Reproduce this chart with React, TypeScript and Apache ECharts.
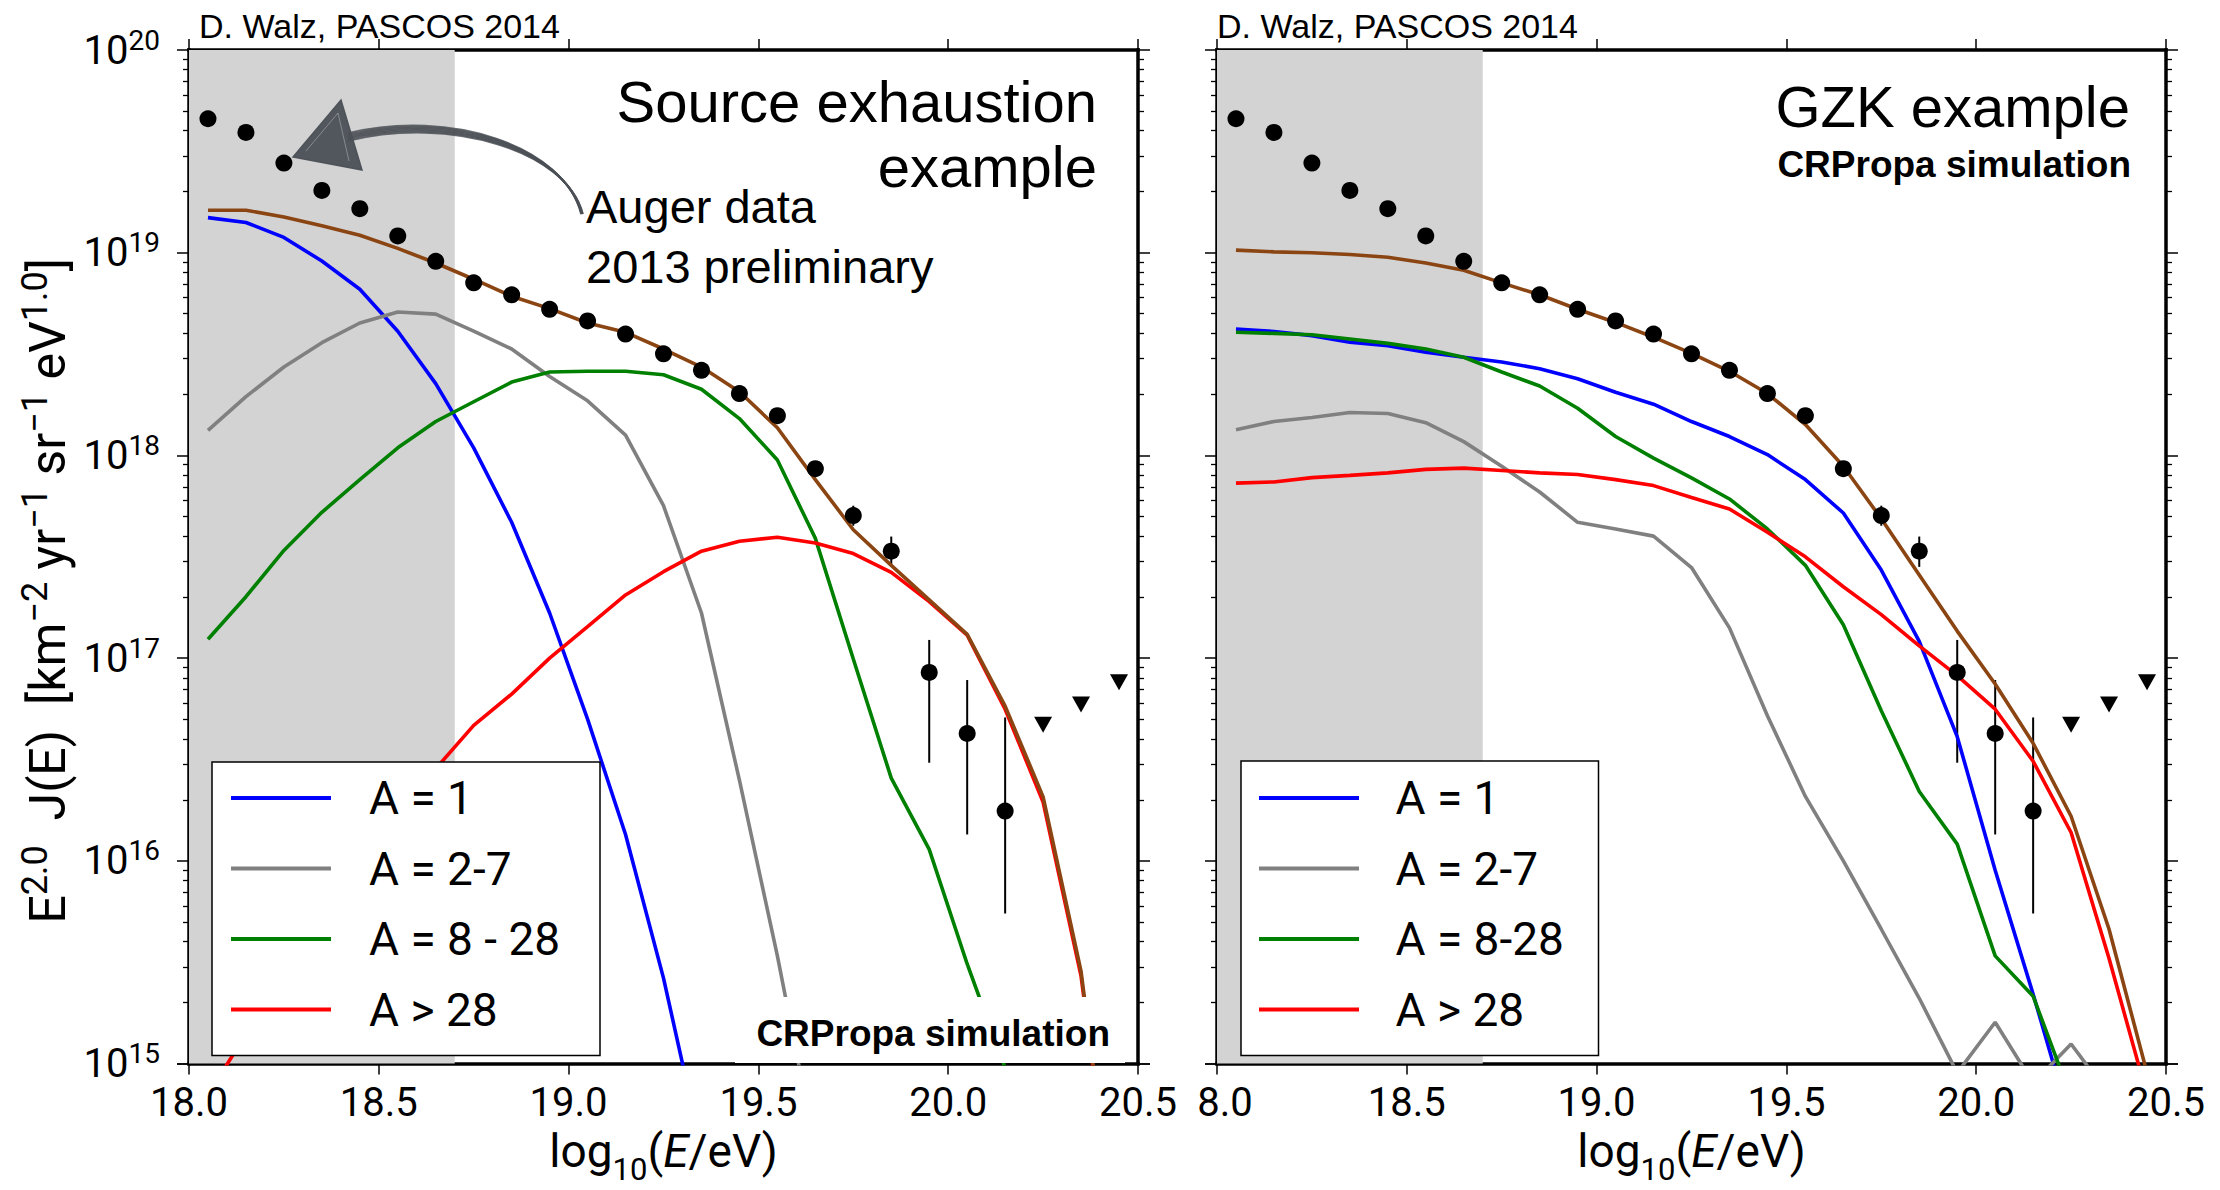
import React, { useEffect, useRef } from "react";
import * as echarts from "echarts";

// log10(E/eV) bin centres of the simulated spectra
const ENERGY_BINS = [
  18.05, 18.15, 18.25, 18.35, 18.45, 18.55, 18.65, 18.75, 18.85, 18.95, 19.05, 19.15, 19.25,
  19.35, 19.45, 19.55, 19.65, 19.75, 19.85, 19.95, 20.05, 20.15, 20.25, 20.35, 20.45,
];

// Auger 2013 preliminary spectrum, E^2 J(E)
const AUGER_ENERGY = [
  18.05, 18.15, 18.25, 18.35, 18.45, 18.55, 18.65, 18.75, 18.85, 18.95, 19.05, 19.15, 19.25,
  19.35, 19.45, 19.55, 19.65, 19.75, 19.85, 19.95, 20.05, 20.15,
];
const AUGER_FLUX = [
  4.58e19, 3.92e19, 2.77e19, 2.03e19, 1.65e19, 1.21e19, 9.07e18, 7.1e18, 6.2e18, 5.26e18, 4.61e18,
  3.97e18, 3.17e18, 2.63e18, 2.02e18, 1.57e18, 8.6e17, 5.05e17, 3.37e17, 8.5e16, 4.25e16, 1.76e16,
];
const AUGER_ERR_ENERGY = [19.75, 19.85, 19.95, 20.05, 20.15];
const AUGER_ERR_LOW = [4.5e17, 2.82e17, 3.05e16, 1.35e16, 5.5e15];
const AUGER_ERR_HIGH = [5.65e17, 3.98e17, 1.23e17, 7.8e16, 5.1e16];
const AUGER_LIMIT_ENERGY = [20.25, 20.35, 20.45];
const AUGER_LIMIT_FLUX = [4.7e16, 5.9e16, 7.6e16];

// Source exhaustion scenario
const EXH_A1 = [
  1.49e19, 1.41e19, 1.19e19, 9.1e18, 6.6e18, 4.1e18, 2.26e18, 1.09e18, 4.68e17, 1.67e17, 5.0e16,
  1.35e16, 2.64e15, 3.8e14, null, null, null, null, null, null, null, null, null, null, null,
];
const EXH_A2_7 = [
  1.33e18, 1.95e18, 2.73e18, 3.6e18, 4.5e18, 5.1e18, 4.98e18, 4.1e18, 3.35e18, 2.45e18, 1.86e18,
  1.26e18, 5.65e17, 1.67e17, 2.5e16, 3.4e15, 3.8e14, null, null, null, null, null, null, null, null,
];
const EXH_A8_28 = [
  1.24e17, 2.01e17, 3.4e17, 5.24e17, 7.6e17, 1.09e18, 1.47e18, 1.84e18, 2.3e18, 2.58e18, 2.6e18,
  2.6e18, 2.5e18, 2.12e18, 1.52e18, 9.5e17, 3.9e17, 9.9e16, 2.56e16, 1.14e16, 3.1e15, 9.5e14, 1e14,
  null, null,
];
const EXH_A28 = [
  7e14, 1.4e15, 2.8e15, 5.5e15, 1.02e16, 1.75e16, 2.85e16, 4.66e16, 6.65e16, 1.0e17, 1.43e17,
  2.05e17, 2.67e17, 3.37e17, 3.77e17, 3.95e17, 3.7e17, 3.28e17, 2.65e17, 1.9e17, 1.3e17, 5.6e16,
  1.95e16, 2.7e15, 1e14,
];
const EXH_TOTAL = [
  1.62e19, 1.62e19, 1.5e19, 1.36e19, 1.22e19, 1.05e19, 8.9e18, 7.4e18, 6.1e18, 5.3e18, 4.5e18,
  4.05e18, 3.35e18, 2.73e18, 2.06e18, 1.37e18, 7.6e17, 4.3e17, 2.87e17, 1.94e17, 1.31e17, 5.8e16,
  2.07e16, 2.85e15, 1e14,
];

// GZK scenario
const GZK_A1 = [
  4.2e18, 4.09e18, 3.9e18, 3.62e18, 3.48e18, 3.23e18, 3.05e18, 2.89e18, 2.68e18, 2.39e18, 2.05e18,
  1.79e18, 1.47e18, 1.24e18, 1.01e18, 7.6e17, 5.2e17, 2.72e17, 1.21e17, 4.1e16, 9e15, 2.2e15, 5e14,
  null, null,
];
const GZK_A2_7 = [
  1.34e18, 1.47e18, 1.54e18, 1.63e18, 1.61e18, 1.45e18, 1.17e18, 8.85e17, 6.6e17, 4.68e17, 4.34e17,
  4.0e17, 2.8e17, 1.41e17, 5.2e16, 2.08e16, 1.0e16, 4.6e15, 2.1e15, 9e14, 1.6e15, 8e14, 1.25e15,
  7e14, 3e14,
];
const GZK_A8_28 = [
  4.05e18, 4.0e18, 3.94e18, 3.75e18, 3.57e18, 3.35e18, 3.05e18, 2.58e18, 2.2e18, 1.71e18, 1.24e18,
  9.7e17, 7.75e17, 6.1e17, 4.34e17, 2.87e17, 1.46e17, 5.5e16, 2.2e16, 1.21e16, 3.4e15, 2.15e15,
  6.8e14, null, null,
];
const GZK_A28 = [
  7.3e17, 7.4e17, 7.77e17, 7.97e17, 8.2e17, 8.54e17, 8.66e17, 8.43e17, 8.2e17, 8.05e17, 7.6e17,
  7.1e17, 6.2e17, 5.44e17, 4.18e17, 3.16e17, 2.25e17, 1.64e17, 1.15e17, 8.2e16, 5.6e16, 3.1e16,
  1.38e16, 3.3e15, 7e14,
];
const GZK_TOTAL = [
  1.03e19, 1.01e19, 1.0e19, 9.8e18, 9.5e18, 8.9e18, 8.2e18, 7.1e18, 6.2e18, 5.26e18, 4.53e18,
  3.83e18, 3.19e18, 2.6e18, 2.02e18, 1.42e18, 8.85e17, 4.87e17, 2.57e17, 1.36e17, 7.45e16, 3.8e16,
  1.66e16, 4.6e15, 9e14,
];

const LEGEND_EXH = ["A = 1", "A = 2-7", "A = 8 - 28", "A > 28"];
const LEGEND_GZK = ["A = 1", "A = 2-7", "A = 8-28", "A > 28"];

// axis ranges
const X_MIN = 18.0;
const X_MAX = 20.5;
const X_STEP = 0.5;
const Y_MIN = 1e15;
const Y_MAX = 1e20;
// energy range shaded in grey
const SHADE = [18.0, 18.7];

const LINE_COLORS = ["#0000ff", "#808080", "#008000", "#ff0000", "#8b4513"];
const FONT_TEX = "Roboto, 'DejaVu Sans', sans-serif";
const FONT_HELV = "'Liberation Sans', Arial, Helvetica, sans-serif";

const toPairs = (xs: number[], ys: (number | null)[]) =>
  xs.map((x, i) => [x, ys[i]]).filter((d) => d[1] != null);

function panelSeries(p: number, curves: (number | null)[][], names: string[]) {
  const axes = { xAxisIndex: 2 * p, yAxisIndex: 2 * p };
  const list: any[] = [];
  list.push({
    type: "custom",
    ...axes,
    z: 1,
    silent: true,
    data: [SHADE],
    encode: { x: [0, 1] },
    renderItem: (_: any, api: any) => {
      const a = api.coord([api.value(0), Y_MAX]);
      const b = api.coord([api.value(1), Y_MIN]);
      return {
        type: "rect",
        shape: { x: a[0], y: a[1], width: b[0] - a[0], height: b[1] - a[1] },
        style: { fill: "#d3d3d3" },
      };
    },
  });
  list.push({
    type: "custom",
    ...axes,
    z: 2,
    silent: true,
    data: AUGER_ERR_ENERGY.map((e, i) => [e, AUGER_ERR_LOW[i], AUGER_ERR_HIGH[i]]),
    encode: { x: 0, y: [1, 2] },
    renderItem: (_: any, api: any) => {
      const lo = api.coord([api.value(0), api.value(1)]);
      const hi = api.coord([api.value(0), api.value(2)]);
      return {
        type: "line",
        shape: { x1: lo[0], y1: lo[1], x2: hi[0], y2: hi[1] },
        style: { stroke: "#000", lineWidth: 2 },
      };
    },
  });
  list.push({
    type: "scatter",
    name: "Auger",
    ...axes,
    z: 2,
    silent: true,
    symbol: "circle",
    symbolSize: 17,
    itemStyle: { color: "#000", opacity: 1 },
    data: toPairs(AUGER_ENERGY, AUGER_FLUX),
  });
  list.push({
    type: "scatter",
    name: "Auger limits",
    ...axes,
    z: 2,
    silent: true,
    symbol: "triangle",
    symbolRotate: 180,
    symbolSize: [18, 16],
    itemStyle: { color: "#000", opacity: 1 },
    data: toPairs(AUGER_LIMIT_ENERGY, AUGER_LIMIT_FLUX),
  });
  curves.forEach((vals, k) => {
    list.push({
      type: "line",
      name: k < names.length ? names[k] : "total",
      ...axes,
      z: 2,
      silent: true,
      showSymbol: false,
      symbol: "none",
      clip: true,
      lineStyle: { color: LINE_COLORS[k], width: 3.6 },
      itemStyle: { color: LINE_COLORS[k] },
      data: toPairs(ENERGY_BINS, vals),
    });
  });
  return list;
}

const frameLine = {
  show: true,
  onZero: false,
  lineStyle: { color: "#000", width: 3.5, cap: "square" },
};
const majorTick = (len: number) => ({
  show: true,
  inside: false,
  length: len,
  lineStyle: { color: "#000", width: 1.5 },
});
const minorTick = { show: true, splitNumber: 9, length: 6, lineStyle: { color: "#000", width: 1.3 } };

const X_NAME = "{n|log}{sub|10}{n|(}{it|E}{n|/eV)}";
const X_NAME_RICH = {
  n: { fontSize: 46, fontFamily: FONT_TEX, color: "#000", verticalAlign: "middle" },
  it: { fontSize: 46, fontFamily: FONT_TEX, fontStyle: "italic", color: "#000", verticalAlign: "middle" },
  sub: { fontSize: 31, fontFamily: FONT_TEX, color: "#000", verticalAlign: "middle", padding: [38, 0, 0, 0] },
};

const Y_NAME =
  "{n|E}{sup|2.0}{n|  J(E)  [km}{sup|\u22122}{n| yr}{sup|\u22121}{n| sr}{sup|\u22121}{n| eV}{sup|1.0}{n|]}";
const Y_NAME_RICH = {
  n: { fontSize: 50, fontFamily: FONT_TEX, color: "#000", verticalAlign: "middle" },
  sup: { fontSize: 36, fontFamily: FONT_TEX, color: "#000", verticalAlign: "middle", padding: [0, 0, 26, 0] },
};

function xBottom(grid: number, right: boolean) {
  return {
    type: "value",
    gridIndex: grid,
    position: "bottom",
    min: X_MIN,
    max: X_MAX,
    interval: X_STEP,
    axisLine: frameLine,
    axisTick: majorTick(11),
    splitLine: { show: false },
    axisLabel: {
      margin: 19,
      fontSize: 40,
      fontFamily: FONT_TEX,
      color: "#000",
      formatter: (v: number) => (right && v === X_MIN ? "{cut|8.0}" : v.toFixed(1)),
      rich: { cut: { fontSize: 40, fontFamily: FONT_TEX, color: "#000", padding: [0, 0, 0, 16] } },
    },
    name: X_NAME,
    nameLocation: "middle",
    nameGap: 49,
    nameTextStyle: { rich: X_NAME_RICH },
  };
}

function xTop(grid: number) {
  return {
    type: "value",
    gridIndex: grid,
    position: "top",
    min: X_MIN,
    max: X_MAX,
    interval: X_STEP,
    axisLine: frameLine,
    axisTick: majorTick(11),
    splitLine: { show: false },
    axisLabel: { show: false },
  };
}

function yAxisLog(grid: number, position: string, labelled: boolean) {
  const axis: any = {
    type: "log",
    logBase: 10,
    gridIndex: grid,
    position,
    min: Y_MIN,
    max: Y_MAX,
    axisLine: frameLine,
    axisTick: majorTick(12),
    minorTick,
    splitLine: { show: false },
    minorSplitLine: { show: false },
    axisLabel: labelled
      ? {
          margin: 29,
          formatter: (v: number) => `{b|10}{s|${Math.round(Math.log10(v))}}`,
          rich: {
            b: { fontSize: 40, fontFamily: FONT_TEX, color: "#000", verticalAlign: "middle" },
            s: { fontSize: 28, fontFamily: FONT_TEX, color: "#000", verticalAlign: "middle", padding: [0, 0, 20, 0] },
          },
        }
      : { show: false },
  };
  if (labelled) {
    axis.name = Y_NAME;
    axis.nameLocation = "middle";
    axis.nameRotate = 90;
    axis.nameGap = 110;
    axis.nameTextStyle = { rich: Y_NAME_RICH, padding: [0, 68, 0, 0] };
  }
  return axis;
}

function legendBox(left: number, top: number, names: string[], padding: number[], spacer: number, textWidth: number) {
  return {
    left,
    top,
    orient: "vertical",
    data: names,
    icon: "rect",
    itemWidth: 100,
    itemHeight: 4,
    itemGap: 24.5,
    padding,
    backgroundColor: "#fff",
    borderColor: "#000",
    borderWidth: 1.5,
    borderRadius: 0,
    selectedMode: false,
    itemStyle: { borderWidth: 0 },
    formatter: (name: string) => `{sp| }{t|${name}}`,
    textStyle: {
      rich: {
        sp: { width: spacer, lineHeight: 44, fontSize: 46 },
        t: { width: textWidth, lineHeight: 44, fontSize: 46, fontFamily: FONT_TEX, color: "#000" },
      },
    },
  };
}

function text(
  str: string,
  x: number,
  y: number,
  size: number,
  align: string,
  weight = "normal"
) {
  return {
    type: "text",
    x,
    y,
    z: 20,
    silent: true,
    style: {
      text: str,
      fill: "#000",
      fontSize: size,
      fontFamily: FONT_HELV,
      fontWeight: weight,
      align,
      textAlign: align,
      verticalAlign: "middle",
      textVerticalAlign: "middle",
    },
  };
}

// hand-drawn arrow pointing from the data caption to the data points
const ARROW_STROKES = [-3, -2, -1, 0, 1, 2, 3];
function arrowElements() {
  const els: any[] = ARROW_STROKES.map((i) => ({
    type: "bezierCurve",
    z: 20,
    silent: true,
    shape: {
      x1: 582 + i * 0.3,
      y1: 214,
      cpx1: 565 + i * 0.5,
      cpy1: 148 + i * 0.9,
      cpx2: 450,
      cpy2: 112 + i * 1.2,
      x2: 348,
      y2: 137 + i * 1.3,
    },
    style: { stroke: "#4b5056", lineWidth: 1.9, fill: "none", opacity: 0.85 },
  }));
  els.push({
    type: "polygon",
    z: 20,
    silent: true,
    shape: { points: [[293, 157], [341, 100], [362, 170]] },
    style: { fill: "#4b5056", stroke: "#4b5056", lineWidth: 1.5, opacity: 0.95 },
  });
  els.push({
    type: "polyline",
    z: 21,
    silent: true,
    shape: { points: [[306, 151], [338, 113], [349, 161]] },
    style: { stroke: "rgba(255,255,255,0.3)", lineWidth: 1, fill: "none" },
  });
  return els;
}

function buildOption() {
  return {
    animation: false,
    backgroundColor: "#fff",
    grid: [
      { left: 189, top: 50, width: 949, height: 1023 },
      { left: 1217, top: 50, width: 949, height: 1023 },
    ],
    xAxis: [xBottom(0, false), xTop(0), xBottom(1, true), xTop(1)],
    yAxis: [
      yAxisLog(0, "left", true),
      yAxisLog(0, "right", false),
      yAxisLog(1, "left", false),
      yAxisLog(1, "right", false),
    ],
    legend: [
      legendBox(212, 762, LEGEND_EXH, [13, 5, 23, 19], 33, 226),
      legendBox(1241, 761, LEGEND_GZK, [14, 5, 23, 18], 31.5, 198),
    ],
    graphic: {
      elements: [
        text("D. Walz, PASCOS 2014", 199, 26, 34, "left"),
        text("D. Walz, PASCOS 2014", 1217, 26, 34, "left"),
        text("Source exhaustion", 1097, 101, 58, "right"),
        text("example", 1097, 166, 58, "right"),
        text("Auger data", 586, 206.5, 47, "left"),
        text("2013 preliminary", 586, 266.5, 47, "left"),
        text("GZK example", 2130, 106, 58, "right"),
        text("CRPropa simulation", 2131, 164.5, 37, "right", "bold"),
        {
          type: "rect",
          z: 19,
          silent: true,
          shape: { x: 735, y: 997, width: 390, height: 66 },
          style: { fill: "#fff" },
        },
        text("CRPropa simulation", 1110, 1033, 37, "right", "bold"),
        ...arrowElements(),
      ],
    },
    series: [
      ...panelSeries(0, [EXH_A1, EXH_A2_7, EXH_A8_28, EXH_A28, EXH_TOTAL], LEGEND_EXH),
      ...panelSeries(1, [GZK_A1, GZK_A2_7, GZK_A8_28, GZK_A28, GZK_TOTAL], LEGEND_GZK),
    ],
  };
}

export default function App() {
  const ref = useRef<HTMLDivElement>(null);
  useEffect(() => {
    document.body.style.margin = "0";
    const chart = echarts.init(ref.current!, null, { renderer: "svg" });
    chart.setOption(buildOption() as any);
    return () => chart.dispose();
  }, []);
  return <div ref={ref} style={{ width: 2220, height: 1190 }} />;
}
